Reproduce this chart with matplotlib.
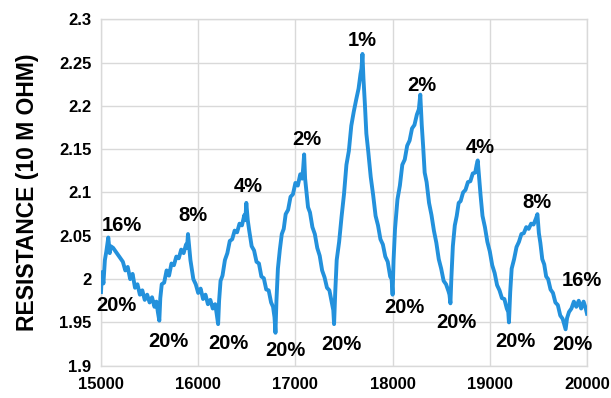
import matplotlib
matplotlib.use("Agg")
import matplotlib.pyplot as plt
from matplotlib.ticker import FixedLocator

plt.rcParams['font.family'] = ['Liberation Sans', 'DejaVu Sans']

# Resistance trace, one list pair per humidity step (time in s, resistance in 10 MOhm)
t1 = [15000, 15010, 15025, 15040, 15055, 15075, 15090, 15100, 15125, 15150, 15175, 15200, 15225, 15250,
      15275, 15300, 15325, 15350, 15375, 15400, 15425, 15450, 15475, 15500, 15525, 15550, 15570, 15585, 15600]
r1 = [1.985, 2.008, 1.995, 2.022, 2.032, 2.048, 2.030, 2.038, 2.036, 2.032, 2.028, 2.024, 2.020, 2.010,
      2.014, 2.000, 2.006, 1.990, 1.994, 1.982, 1.987, 1.976, 1.982, 1.973, 1.979, 1.968, 1.974, 1.962, 1.952]

t2 = [15610, 15625, 15650, 15675, 15700, 15725, 15750, 15775, 15800, 15825, 15850, 15875, 15885, 15895]
r2 = [1.978, 1.994, 1.996, 2.010, 2.004, 2.018, 2.016, 2.026, 2.024, 2.034, 2.030, 2.040, 2.036, 2.052]

t3 = [15920, 15950, 15975, 16000, 16025, 16050, 16075, 16100, 16125, 16150, 16175, 16190, 16205]
r3 = [2.022, 2.000, 1.994, 1.984, 1.989, 1.977, 1.982, 1.971, 1.976, 1.966, 1.971, 1.960, 1.948]

t4 = [16215, 16230, 16250, 16275, 16300, 16325, 16350, 16375, 16400, 16425, 16450, 16475, 16485, 16495]
r4 = [1.975, 1.998, 2.004, 2.022, 2.030, 2.044, 2.046, 2.056, 2.054, 2.064, 2.062, 2.074, 2.068, 2.088]

t5 = [16510, 16525, 16550, 16575, 16600, 16625, 16650, 16675, 16700, 16725, 16750, 16770, 16785, 16795]
r5 = [2.068, 2.056, 2.038, 2.033, 2.020, 2.018, 2.003, 2.001, 1.988, 1.987, 1.973, 1.968, 1.956, 1.938]

t6 = [16805, 16820, 16840, 16860, 16880, 16900, 16925, 16950, 16975, 17000, 17025, 17050, 17070, 17080, 17090]
r6 = [1.975, 2.012, 2.034, 2.052, 2.058, 2.075, 2.080, 2.095, 2.098, 2.111, 2.108, 2.121, 2.116, 2.128, 2.144]

t7 = [17100, 17115, 17130, 17150, 17175, 17200, 17225, 17250, 17275, 17300, 17325, 17350, 17375, 17390, 17398]
r7 = [2.116, 2.100, 2.083, 2.077, 2.060, 2.052, 2.036, 2.027, 2.010, 2.002, 1.990, 1.987, 1.973, 1.964, 1.948]

t8 = [17410, 17425, 17450, 17475, 17500, 17525, 17550, 17575, 17600, 17625, 17650, 17670, 17680, 17690]
r8 = [1.985, 2.022, 2.043, 2.072, 2.098, 2.132, 2.148, 2.177, 2.193, 2.207, 2.220, 2.237, 2.243, 2.260]

t9 = [17700, 17715, 17730, 17750, 17775, 17800, 17825, 17850, 17875, 17900, 17925, 17950, 17975, 17990, 18000]
r9 = [2.232, 2.202, 2.168, 2.147, 2.118, 2.097, 2.073, 2.062, 2.046, 2.040, 2.026, 2.020, 2.003, 2.000, 1.982]

t10 = [18010, 18025, 18050, 18075, 18100, 18125, 18150, 18175, 18200, 18225, 18250, 18270, 18285]
r10 = [2.022, 2.058, 2.092, 2.108, 2.132, 2.138, 2.154, 2.160, 2.174, 2.178, 2.190, 2.196, 2.213]

t11 = [18300, 18315, 18330, 18350, 18375, 18400, 18425, 18450, 18475, 18500, 18525, 18550, 18575, 18585, 18595]
r11 = [2.178, 2.152, 2.123, 2.112, 2.088, 2.074, 2.056, 2.042, 2.023, 2.012, 1.998, 1.994, 1.986, 1.982, 1.972]

t12 = [18605, 18620, 18640, 18660, 18680, 18700, 18725, 18750, 18775, 18800, 18825, 18850, 18865, 18876]
r12 = [2.002, 2.038, 2.062, 2.073, 2.088, 2.090, 2.100, 2.103, 2.112, 2.113, 2.122, 2.123, 2.132, 2.137]

t13 = [18890, 18905, 18925, 18950, 18975, 19000, 19025, 19050, 19075, 19100, 19125, 19150, 19175, 19190, 19197]
r13 = [2.118, 2.097, 2.073, 2.060, 2.043, 2.032, 2.016, 2.007, 1.993, 1.987, 1.978, 1.977, 1.966, 1.962, 1.950]

t14 = [19210, 19225, 19250, 19275, 19300, 19325, 19350, 19375, 19400, 19425, 19450, 19475, 19490]
r14 = [1.985, 2.012, 2.023, 2.037, 2.043, 2.052, 2.053, 2.060, 2.058, 2.064, 2.063, 2.070, 2.075]

t15 = [19505, 19520, 19540, 19560, 19580, 19600, 19625, 19650, 19675, 19700, 19725, 19750, 19770, 19780]
r15 = [2.053, 2.042, 2.023, 2.017, 2.003, 2.000, 1.988, 1.984, 1.973, 1.970, 1.958, 1.954, 1.946, 1.942]

t16 = [19795, 19815, 19840, 19865, 19890, 19915, 19940, 19965, 19985, 20000]
r16 = [1.955, 1.962, 1.966, 1.974, 1.968, 1.975, 1.966, 1.974, 1.967, 1.960]

# Humidity labels placed next to the peaks and troughs
step_labels = ["16%", "20%", "8%", "20%", "4%", "20%", "2%", "20%", "20%",
               "1%", "20%", "2%", "20%", "4%", "20%", "8%", "16%", "20%"]
label_t = [15213, 15160, 15943, 15693, 16510, 16311, 17116, 16896, 17478,
           17691, 18118, 18301, 18653, 18904, 19260, 19490, 19945, 19851]
label_r = [2.062, 1.969, 2.074, 1.928, 2.107, 1.926, 2.161, 1.917, 1.924,
           2.275, 1.967, 2.223, 1.950, 2.152, 1.928, 2.089, 1.998, 1.924]

x_ticks = [15000, 16000, 17000, 18000, 19000, 20000]
y_ticks = [1.9, 1.95, 2.0, 2.05, 2.1, 2.15, 2.2, 2.25, 2.3]
y_tick_labels = ["1.9", "1.95", "2", "2.05", "2.1", "2.15", "2.2", "2.25", "2.3"]

time = t1 + t2 + t3 + t4 + t5 + t6 + t7 + t8 + t9 + t10 + t11 + t12 + t13 + t14 + t15 + t16
resistance = r1 + r2 + r3 + r4 + r5 + r6 + r7 + r8 + r9 + r10 + r11 + r12 + r13 + r14 + r15 + r16

fig = plt.figure(figsize=(6.11, 3.98), dpi=100)
ax = fig.add_axes([0.1653, 0.0812, 0.7954, 0.8703])

ax.plot(time, resistance, color="#2391dc", linewidth=2.8, solid_joinstyle="round", zorder=3)

ax.set_xlim(15000, 20000)
ax.set_ylim(1.9, 2.3)
ax.xaxis.set_major_locator(FixedLocator(x_ticks))
ax.set_xticklabels([str(v) for v in x_ticks])
ax.yaxis.set_major_locator(FixedLocator(y_ticks))
ax.set_yticklabels(y_tick_labels)

ax.grid(True, color="#d9d9d9", linewidth=1.0, zorder=0)
for side in ax.spines.values():
    side.set_color("#d9d9d9")
    side.set_linewidth(1.0)
ax.tick_params(axis="y", length=0, pad=7, labelsize=12)
ax.tick_params(axis="x", length=0, pad=8.5, labelsize=12)
for lbl in ax.get_xticklabels() + ax.get_yticklabels():
    lbl.set_fontweight("bold")

ax.set_ylabel("RESISTANCE (10 M OHM)", fontsize=16.5, fontweight="bold", labelpad=14)

for text, tx, ry in zip(step_labels, label_t, label_r):
    ax.text(tx, ry, text, ha="center", va="center", fontsize=14.5, fontweight="bold",
            color="black", clip_on=False, zorder=4)

fig.savefig("out.png", dpi=100)
